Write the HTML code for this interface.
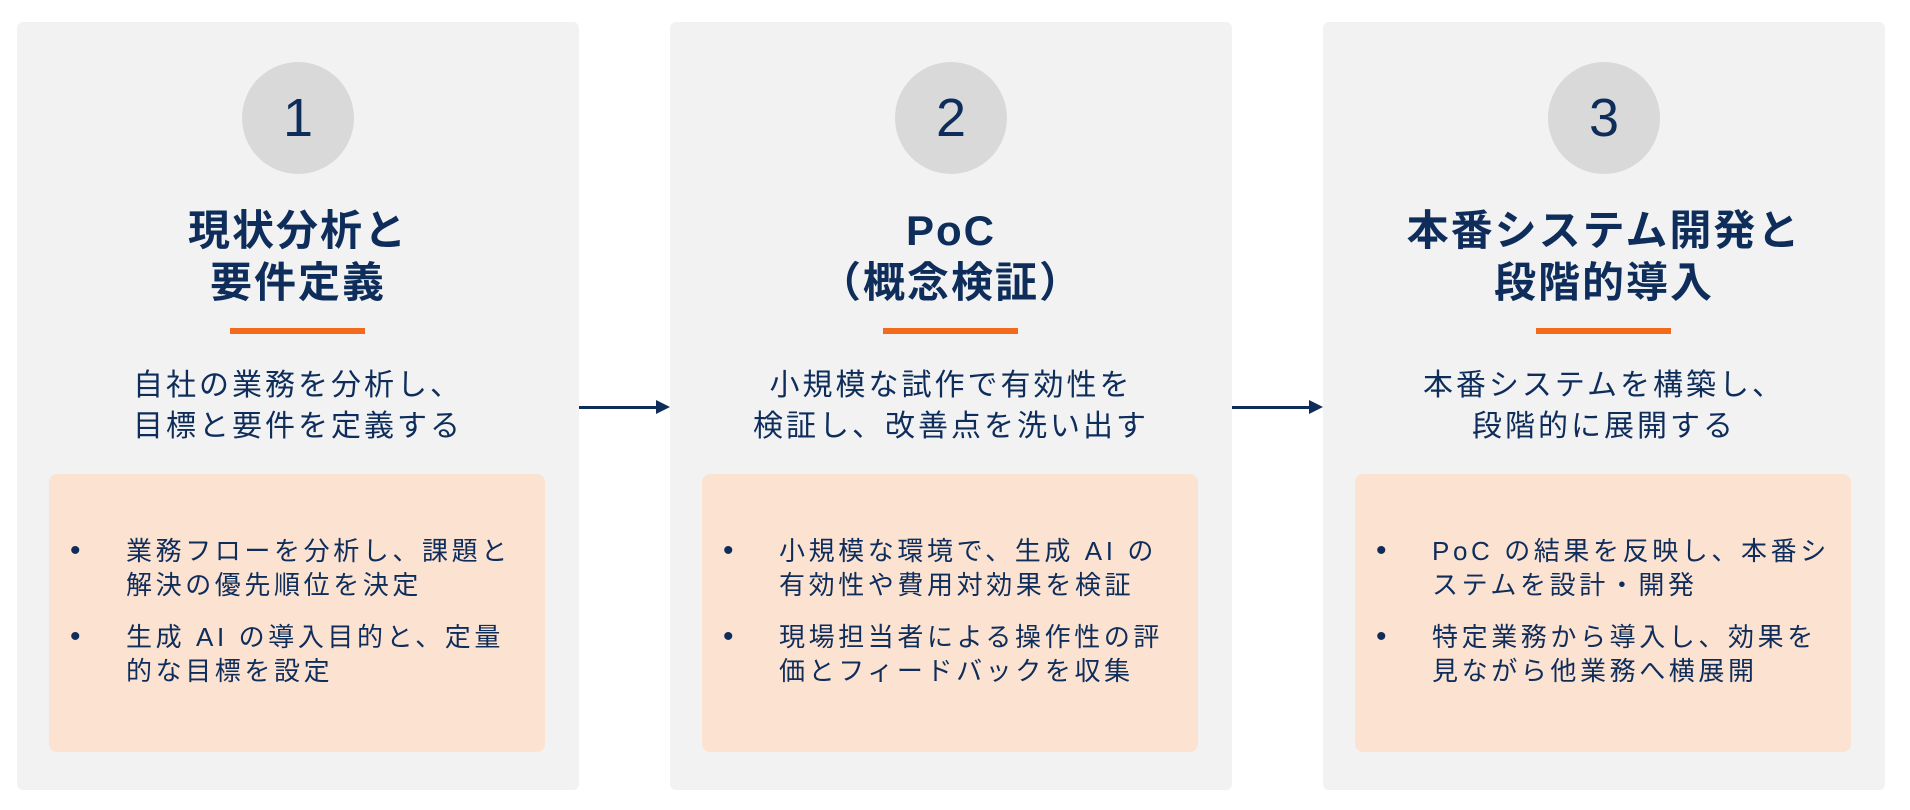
<!DOCTYPE html>
<html><head><meta charset="utf-8"><style>
body{margin:0;width:1910px;height:810px;background:#fff;position:relative;overflow:hidden;font-family:"Liberation Sans","Noto Sans CJK JP",sans-serif;color:#0e2d5b}
.card{position:absolute;top:22px;width:562px;height:768px;background:#f2f2f2;border-radius:6px}
.circ{position:absolute;left:50%;top:40px;width:112px;height:112px;margin-left:-56px;border-radius:50%;background:#d9d9d9;text-align:center;line-height:112px;font-size:54px;font-family:"Liberation Sans",sans-serif}
.title{position:absolute;left:0;right:0;top:183px;text-align:center;font-weight:bold;font-size:42px;line-height:52px;letter-spacing:2px}
.bar{position:absolute;left:50%;margin-left:-68px;top:306px;width:135px;height:6px;background:#f26b1d}
.desc{position:absolute;left:0;right:0;top:343px;text-align:center;font-size:30px;line-height:41px;letter-spacing:3px}
.box{position:absolute;left:32px;right:34px;top:452px;height:278px;background:#fce2d1;border-radius:8px}
.b{position:absolute;left:77px;right:0;font-size:26px;line-height:34px;letter-spacing:3.6px;white-space:nowrap}
.b:before{content:"•";position:absolute;left:-56px;font-size:30px}
.arrow{position:absolute;top:406px;height:3px;background:#0e2d5b}
.arrow:after{content:"";position:absolute;right:-12px;top:-6px;border-left:14px solid #0e2d5b;border-top:7.5px solid transparent;border-bottom:7.5px solid transparent}
</style></head><body>
<div class="card" style="left:17px">
<div class="circ">1</div>
<div class="title">現状分析と<br>要件定義</div>
<div class="bar"></div>
<div class="desc">自社の業務を分析し、<br>目標と要件を定義する</div>
<div class="box">
<div class="b" style="top:60px">業務フローを分析し、課題と<br>解決の優先順位を決定</div>
<div class="b" style="top:146px">生成 AI の導入目的と、定量<br>的な目標を設定</div>
</div></div>
<div class="arrow" style="left:579px;width:79px"></div>
<div class="card" style="left:670px">
<div class="circ">2</div>
<div class="title">PoC<br>（概念検証）</div>
<div class="bar"></div>
<div class="desc">小規模な試作で有効性を<br>検証し、改善点を洗い出す</div>
<div class="box">
<div class="b" style="top:60px">小規模な環境で、生成 AI の<br>有効性や費用対効果を検証</div>
<div class="b" style="top:146px">現場担当者による操作性の評<br>価とフィードバックを収集</div>
</div></div>
<div class="arrow" style="left:1232px;width:79px"></div>
<div class="card" style="left:1323px">
<div class="circ">3</div>
<div class="title">本番システム開発と<br>段階的導入</div>
<div class="bar"></div>
<div class="desc">本番システムを構築し、<br>段階的に展開する</div>
<div class="box">
<div class="b" style="top:60px">PoC の結果を反映し、本番シ<br>ステムを設計・開発</div>
<div class="b" style="top:146px">特定業務から導入し、効果を<br>見ながら他業務へ横展開</div>
</div></div>
</body></html>
